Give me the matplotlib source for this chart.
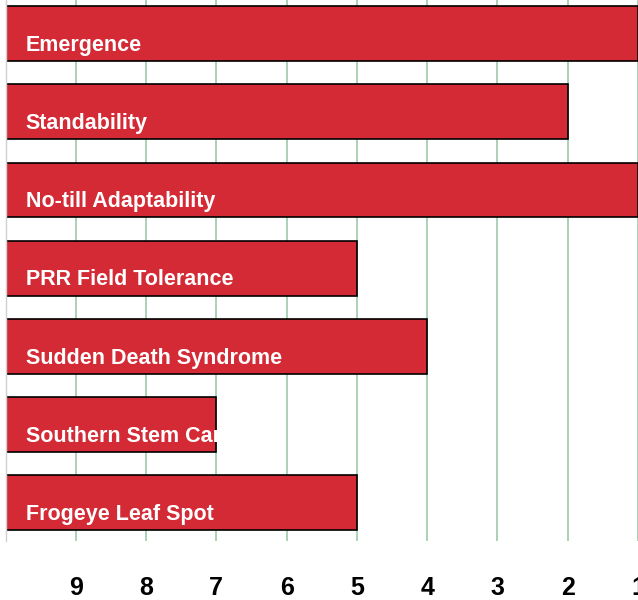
import matplotlib.pyplot as plt
import numpy as np

# Trait ratings (10 = left edge, 1 = right edge)
traits = ['Emergence', 'Standability', 'No-till Adaptability', 'PRR Field Tolerance',
          'Sudden Death Syndrome', 'Southern Stem Canker', 'Frogeye Leaf Spot']
scores = [1, 2, 1, 5, 4, 7, 5]
ticks = [9, 8, 7, 6, 5, 4, 3, 2, 1]

plt.rcParams['font.family'] = ['Liberation Sans', 'DejaVu Sans']

fig = plt.figure(figsize=(6.38, 6.0), dpi=100)
ax = fig.add_axes([5.5 / 638, 59 / 600, 1 - 5.5 / 638, 541 / 600])

y = np.arange(len(traits))
vals = np.array(scores, dtype=float)
bars = ax.barh(y, vals - 10, left=10, height=0.7, color='#d42a35',
               edgecolor='black', linewidth=1.2, zorder=2)

for i, (bar, name) in enumerate(zip(bars, traits)):
    t = ax.text(9.71, i + 0.15, name, color='white', fontsize=15.5, fontweight='bold',
                va='center', ha='left', zorder=3)
    t.set_clip_path(bar)

ax.set_xlim(10, 1)
ax.set_ylim(6.49, -0.43)
ax.set_xticks(ticks)
ax.set_xticklabels([str(t) for t in ticks], fontsize=18, fontweight='bold')
ax.tick_params(axis='x', length=0, pad=25)
ax.set_yticks([])
ax.grid(axis='x', color='#9ccaa9', linewidth=1.2, zorder=0)
ax.set_axisbelow(True)

for s in ['top', 'right', 'bottom']:
    ax.spines[s].set_visible(False)
ax.spines['left'].set_color('#d0d0d0')
ax.spines['left'].set_linewidth(1.0)

fig.savefig('out.png', dpi=100)
